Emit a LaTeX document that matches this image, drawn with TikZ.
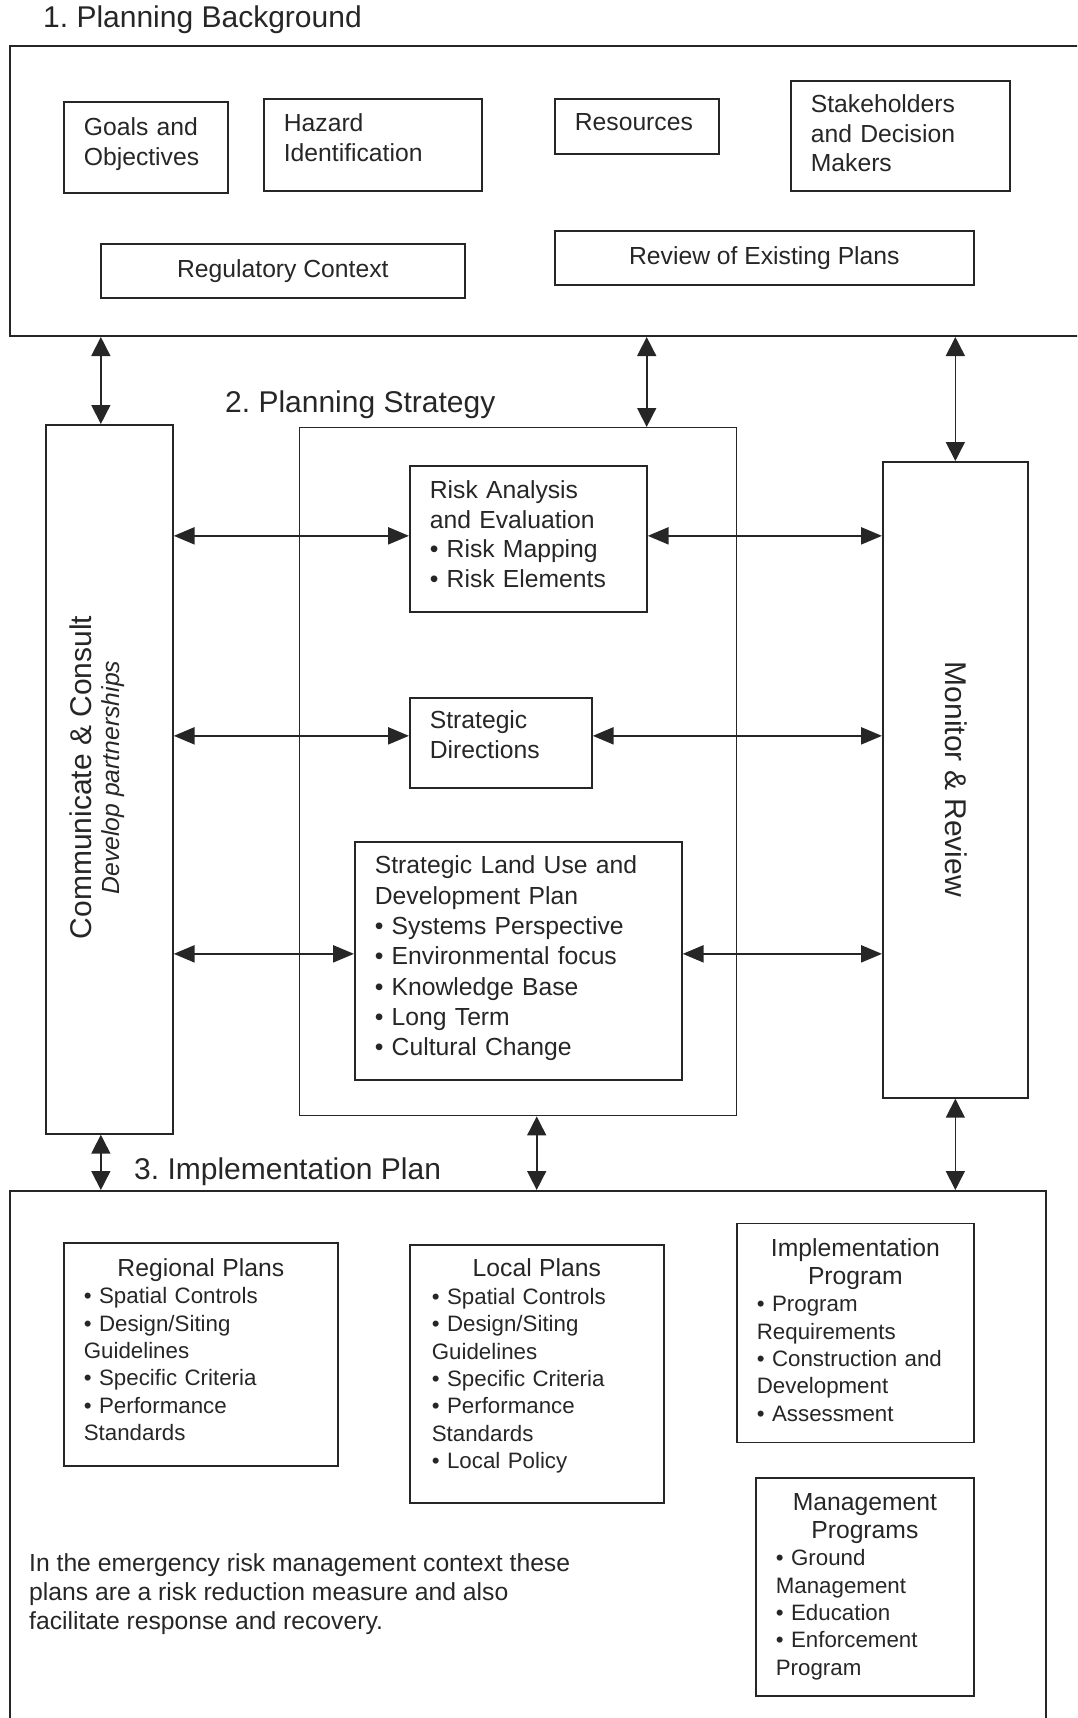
\documentclass[tikz,border=0pt]{standalone}
\usepackage{fontspec}
\setmainfont{Liberation Sans}
\usepackage{xcolor}
\usepackage{tikz}
\usetikzlibrary{positioning,calc,arrows.meta}
\definecolor{ink}{gray}{0.15}
\frenchspacing
\newcommand{\headfont}{\fontsize{30}{32}\selectfont}
\newcommand{\boxfont}{\fontsize{24.7}{29.5}\selectfont}
\newcommand{\itemfont}{\fontsize{22.3}{27.4}\selectfont}
\newcommand{\itemhead}{\fontsize{24.7}{27.4}\selectfont}

\begin{document}
\begin{tikzpicture}[x=1pt, y=-1pt,
    box/.style={draw=ink, line width=1.7pt, rectangle, inner sep=0pt, anchor=north west, text=ink, font=\boxfont},
    lbox/.style={box, align=left, inner xsep=20pt},
    cbox/.style={box, align=center},
    stage/.style={draw=ink, line width=2pt, rectangle, inner sep=0pt, anchor=north west},
    heading/.style={anchor=base west, inner sep=0pt, text=ink, font=\headfont},
    harr/.style={{Triangle[length=21pt,width=17pt]}-{Triangle[length=21pt,width=17pt]}, draw=ink, line width=2.4pt},
    varr/.style={{Triangle[length=19pt,width=19pt]}-{Triangle[length=19pt,width=19pt]}, draw=ink, line width=1.6pt}]

    \useasboundingbox (0,0) rectangle (1077,1718);
    \clip (0,0) rectangle (1077,1718);

    % section headings
    \node[heading] (bgtitle) at (43,27.5) {1. Planning Background};
    \node[heading] (sttitle) at (225,412) {2. Planning Strategy};
    \node[heading] (imtitle) at (134,1179) {3. Implementation Plan};

    % 1. planning background
    \node[stage, minimum width=1100pt, minimum height=290pt] (background) at (9,45) {};
    \node[lbox, text width=124pt, minimum height=91pt, text depth=41pt] (goals) at (63,101) {Goals and\\Objectives};
    \node[lbox, text width=178pt, minimum height=92pt, text depth=44pt] (hazard) at (263,98) {Hazard\\Identification};
    \node[lbox, text width=124pt, minimum height=55pt, text depth=9pt] (resources) at (554,98) {Resources};
    \node[lbox, text width=179pt, minimum height=110pt, text depth=64pt] (stakeholders) at (790,80) {Stakeholders\\and Decision\\Makers};
    \node[cbox, minimum width=364pt, minimum height=54pt] (regulatory) at (100,243) {Regulatory Context};
    \node[cbox, minimum width=419pt, minimum height=54pt] (existing) at (554,230) {Review of Existing Plans};

    % 2. planning strategy
    \node[box, minimum width=127pt, minimum height=709pt] (communicate) at (45,424) {};
    \node[box, line width=1.4pt, minimum width=437pt, minimum height=688pt] (strategy) at (299,427) {};
    \node[box, minimum width=145pt, minimum height=636pt] (monitor) at (882,461) {};
    \node[rotate=90, align=center, inner sep=0pt, text=ink, font=\fontsize{30}{28}\selectfont] (commlabel) at (97.4,777.5)
        {Communicate \& Consult\\{\fontsize{24.7}{28}\selectfont\itshape Develop partnerships}};
    \node[rotate=-90, inner sep=0pt, text=ink, font=\headfont] (monlabel) at (956,779.5) {Monitor \& Review};

    \node[lbox, text width=197pt, minimum height=146pt, text depth=98pt] (risk) at (409,465)
        {Risk Analysis\\and Evaluation\\\textbullet{} Risk Mapping\\\textbullet{} Risk Elements};
    \node[lbox, text width=142pt, minimum height=90pt, text depth=46pt] (directions) at (409,697) {Strategic\\Directions};
    \node[lbox, text width=287pt, minimum height=238pt, text depth=192pt, font=\fontsize{24.7}{30.3}\selectfont] (landuse) at (354,841)
        {Strategic Land Use and\\Development Plan\\\textbullet{} Systems Perspective\\\textbullet{} Environmental focus\\
         \textbullet{} Knowledge Base\\\textbullet{} Long Term\\\textbullet{} Cultural Change};

    \draw[harr] ($(risk.west)+(0,-3)$) -- ($(communicate.east |- risk.west)+(0,-3)$);
    \draw[harr] ($(risk.east)+(0,-3)$) -- ($(monitor.west |- risk.east)+(0,-3)$);
    \draw[harr] ($(directions.west)+(0,-7)$) -- ($(communicate.east |- directions.west)+(0,-7)$);
    \draw[harr] ($(directions.east)+(0,-7)$) -- ($(monitor.west |- directions.east)+(0,-7)$);
    \draw[harr] ($(landuse.west)+(0,-7)$) -- ($(communicate.east |- landuse.west)+(0,-7)$);
    \draw[harr] ($(landuse.east)+(0,-7)$) -- ($(monitor.west |- landuse.east)+(0,-7)$);

    \draw[varr] ($(communicate.north)+(-8.5,0)$) -- ($(background.south -| communicate.north)+(-8.5,0)$);
    \draw[varr] ($(strategy.north)+(128.5,0)$) -- ($(background.south -| strategy.north)+(128.5,0)$);
    \draw[varr] (monitor.north) -- (background.south -| monitor.north);

    % 3. implementation plan
    \node[stage, minimum width=1036pt, minimum height=600pt] (implementation) at (9,1190) {};

    \draw[varr] ($(communicate.south)+(-8.5,0)$) -- ($(implementation.north -| communicate.south)+(-8.5,0)$);
    \draw[varr] ($(strategy.south)+(18.5,0)$) -- ($(implementation.north -| strategy.south)+(18.5,0)$);
    \draw[varr] (monitor.south) -- (implementation.north -| monitor.south);

    \node[lbox, text width=234pt, minimum height=223pt, text depth=174pt, font=\itemfont] (regional) at (63,1242)
        {{\centering\itemhead Regional Plans\par}
         \textbullet{} Spatial Controls\\\textbullet{} Design/Siting\\Guidelines\\\textbullet{} Specific Criteria\\
         \textbullet{} Performance\\Standards};
    \node[lbox, inner xsep=22pt, text width=210pt, minimum height=258pt, text depth=212pt, font=\itemfont] (local) at (409,1244)
        {{\centering\itemhead Local Plans\par}
         \textbullet{} Spatial Controls\\\textbullet{} Design/Siting\\Guidelines\\\textbullet{} Specific Criteria\\
         \textbullet{} Performance\\Standards\\\textbullet{} Local Policy};
    \node[lbox, text width=197pt, minimum height=219pt, text depth=170pt, font=\itemfont] (program) at (736,1222.5)
        {{\centering\itemhead Implementation\\Program\par}
         \textbullet{} Program\\Requirements\\\textbullet{} Construction and\\Development\\\textbullet{} Assessment};
    \node[lbox, text width=178pt, minimum height=218pt, font=\itemfont] (management) at (755,1477)
        {{\centering\itemhead Management\\Programs\par}
         \textbullet{} Ground\\Management\\\textbullet{} Education\\\textbullet{} Enforcement\\Program};

    \node[anchor=base west, align=left, inner sep=0pt, text=ink, font=\fontsize{24.7}{29.3}\selectfont] (note) at (29,1629.6)
        {In the emergency risk management context these\\plans are a risk reduction measure and also\\facilitate response and recovery.};
\end{tikzpicture}
\end{document}
